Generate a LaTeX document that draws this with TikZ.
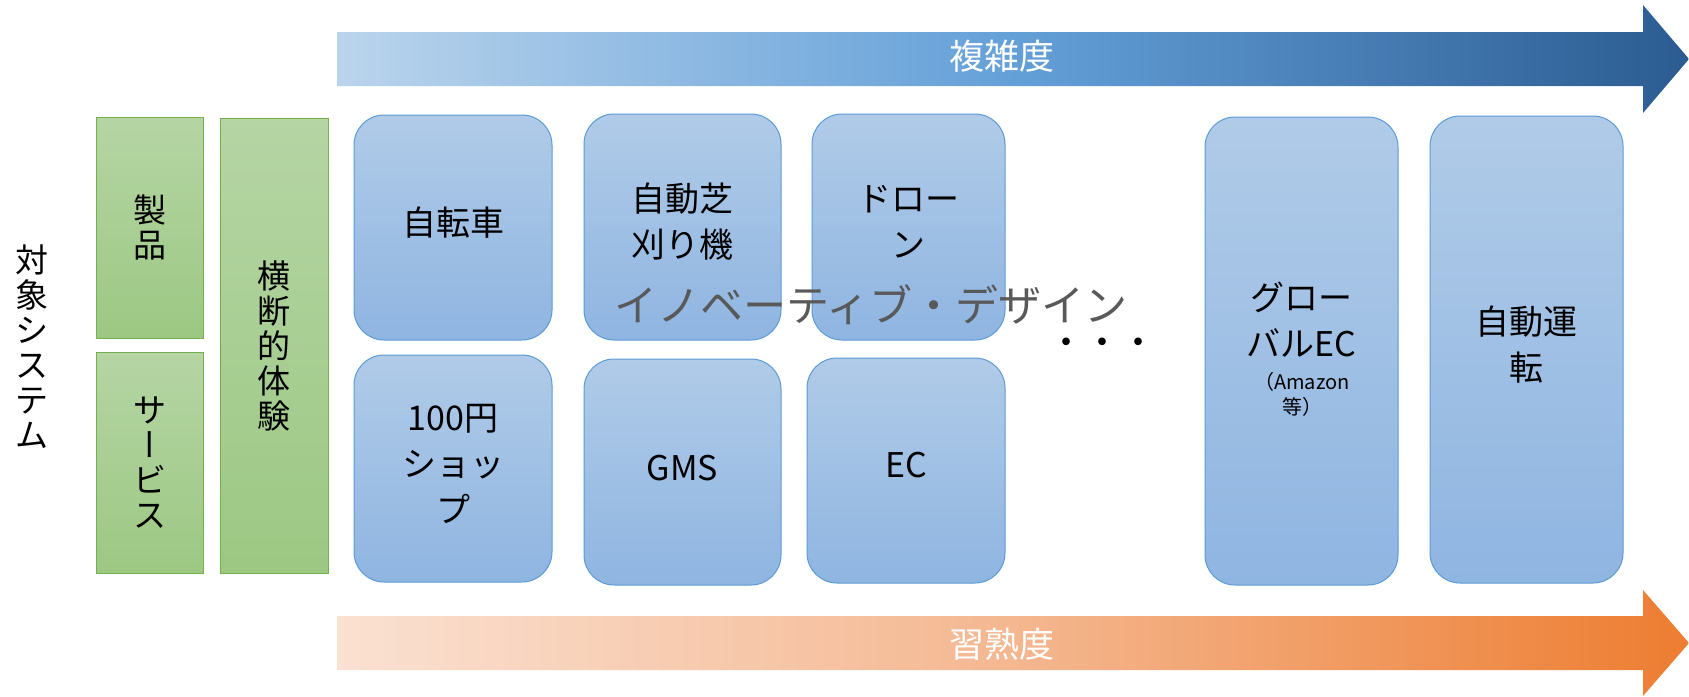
\documentclass[tikz,border=0pt]{standalone}
\usepackage{fontspec}
\setmainfont{Noto Sans CJK JP}
\newfontfamily\jpv[RawFeature=+vert]{Noto Sans CJK JP}
\definecolor{blueTop}{HTML}{B0CBE8}
\definecolor{blueBot}{HTML}{8FB5E1}
\definecolor{blueLine}{HTML}{5B9BD5}
\definecolor{greenTop}{HTML}{B5D5A4}
\definecolor{greenBot}{HTML}{9CC883}
\definecolor{greenLine}{HTML}{74B04E}
\definecolor{arrBlueL}{HTML}{BAD4EC}
\definecolor{arrBlueM}{HTML}{64A0D8}
\definecolor{arrBlueR}{HTML}{2B5C91}
\definecolor{arrOrL}{HTML}{FAE1D2}
\definecolor{arrOrM}{HTML}{F4B790}
\definecolor{arrOrR}{HTML}{ED7D31}
\definecolor{overlayGray}{HTML}{595959}
\tikzset{
  bluebox/.style={draw=blueLine, line width=1pt, rounded corners=30pt,
    top color=blueTop, bottom color=blueBot, inner sep=0pt},
  boxtext/.style={inner sep=0pt, align=center, font=\fontsize{34}{46}\selectfont},
  greenbox/.style={draw=greenLine, line width=1pt,
    top color=greenTop, bottom color=greenBot, inner sep=0pt, align=center,
    font=\fontsize{33}{35}\selectfont},
  vtext/.style={inner sep=0pt, align=center, font=\fontsize{33}{35}\selectfont},
  arrowtext/.style={inner sep=0pt, text=white, font=\fontsize{35}{40}\selectfont},
  small/.style={inner sep=0pt, align=center, font=\fontsize{20}{25}\selectfont},
}
\begin{document}
\begin{tikzpicture}[x=1pt,y=-1pt]
\useasboundingbox (0,0) rectangle (1689,696);
% top arrow
\path[left color=arrBlueL, right color=arrBlueR, middle color=arrBlueM]
  (337,32) -- (1643,32) -- (1643,5) -- (1689,59) -- (1643,113) -- (1643,86) -- (337,86) -- cycle;
\node[arrowtext] (cplx) at (1002,56) {複雑度};
% bottom arrow
\path[left color=arrOrL, right color=arrOrR, middle color=arrOrM]
  (337,616) -- (1643,616) -- (1643,590) -- (1689,643) -- (1643,696) -- (1643,670) -- (337,670) -- cycle;
\node[arrowtext] (prof) at (1002,644) {習熟度};
% left label
\node[vtext] (target) at (32,347) {対\\象\\シ\\ス\\テ\\ム};
% green boxes
\node[greenbox, minimum width=107pt, minimum height=221pt] (prod) at (149.5,227.5) {製\\品};
\node[greenbox, minimum width=107pt, minimum height=221pt] (serv) at (149.5,462.5) {サ\\{\jpv ー}\\ビ\\ス};
\node[greenbox, minimum width=108pt, minimum height=455pt] (cross) at (274,345.5) {横\\断\\的\\体\\験};
% blue boxes
\node[bluebox, minimum width=198pt, minimum height=225pt] (bike) at (453,227.5) {};
\node[bluebox, minimum width=197pt, minimum height=226pt] (mower) at (682.5,227) {};
\node[bluebox, minimum width=193pt, minimum height=226pt] (drone) at (908.5,227) {};
\node[bluebox, minimum width=198pt, minimum height=227pt] (shop) at (453,468.5) {};
\node[bluebox, minimum width=197pt, minimum height=226pt] (gms) at (682.5,472) {};
\node[bluebox, minimum width=198pt, minimum height=225pt] (ec) at (906,470.5) {};
\node[bluebox, minimum width=193pt, minimum height=468pt] (glob) at (1301.5,351) {};
\node[bluebox, minimum width=193pt, minimum height=467pt] (auto) at (1526.5,349.5) {};
% box texts
\node[boxtext] (bike-t) at ([yshift=5pt]bike.center) {自転車};
\node[boxtext] (mower-t) at ([yshift=5pt]mower.center) {自動芝\\刈り機};
\node[boxtext] (drone-t) at ([yshift=5pt]drone.center) {ドロー\\ン};
\node[boxtext] (shop-t) at ([yshift=5pt]shop.center) {100円\\ショッ\\プ};
\node[boxtext] (gms-t) at ([yshift=4pt]gms.center) {GMS};
\node[boxtext] (ec-t) at ([yshift=5pt]ec.center) {EC};
\node[boxtext] (auto-t) at ([yshift=5pt]auto.center) {自動運\\転};
\node[boxtext] (glob-t) at ([yshift=31pt]glob.center) {グロー\\バルEC};
\node[small] (amz) at ([xshift=0.5pt,yshift=-43pt]glob.center) {（Amazon\\等）};
% dots
\node[inner sep=0pt, font=\fontsize{36}{40}\selectfont] (dots) at (1102,347) {・・・};
% overlay
\node[inner sep=0pt, text=overlayGray, font=\fontsize{43}{48}\selectfont] (innov) at (871,305) {イノベーティブ・デザイン};
\end{tikzpicture}
\end{document}
